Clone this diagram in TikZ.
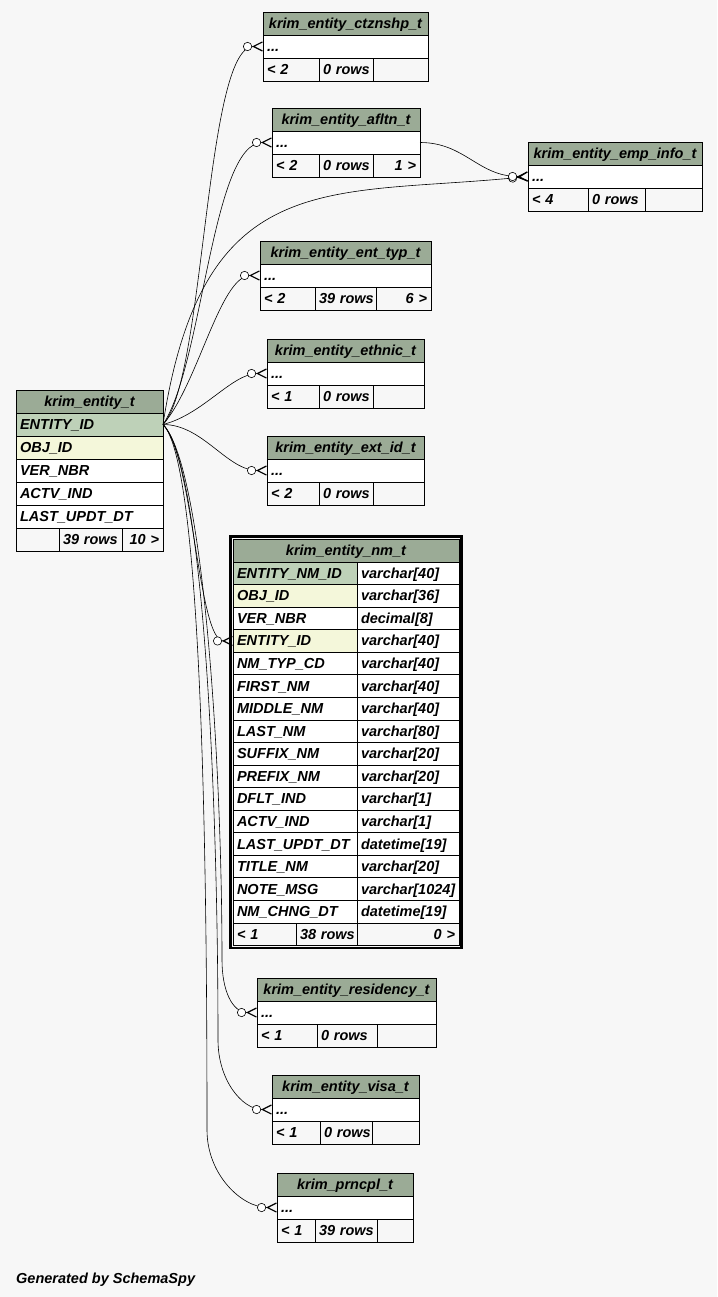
\documentclass[tikz,border=0pt]{standalone}
\usepackage{fontspec}
\setmainfont{Liberation Sans}
\usetikzlibrary{arrows.meta}

\definecolor{hdrgreen}{HTML}{9BAB96}
\definecolor{pkgreen}{HTML}{BED1B8}
\definecolor{fkyellow}{HTML}{F4F7DA}
\definecolor{bggray}{HTML}{F7F7F7}

\tikzset{
  wd/.code={\pgfmathsetlengthmacro\cellw{#1-8}\tikzset{minimum width=#1, text width=\cellw}},
  tbl/.style={draw, rectangle, anchor=north west, inner xsep=4pt, inner ysep=0pt, outer sep=0pt,
    minimum height=23pt, text height=11pt, text depth=1pt, line width=0.8pt,
    font=\fontsize{14.5}{16}\selectfont\bfseries\itshape, align=left, fill=white},
  hdr/.style={tbl, fill=hdrgreen, align=center},
  pkrow/.style={tbl, fill=pkgreen},
  fkrow/.style={tbl, fill=fkyellow},
  plainrow/.style={tbl},
  foot/.style={tbl, fill=bggray},
  footr/.style={foot, align=right},
  crowfoot/.style={line width=0.6pt,
    -{Circle[fill=white, length=9pt, width=9pt] Straight Barb[reversed, length=9pt, width=9pt, line width=1.2pt]}},
}

\begin{document}
\begin{tikzpicture}[x=1pt, y=-1pt]
  \path[use as bounding box, fill=bggray] (0,0) rectangle (717,1297);

  % krim_entity_t
  \node[hdr, wd=147] (ent-h) at (16,390) {krim\_entity\_t};
  \node[pkrow, wd=147] (ent-1) at (ent-h.south west) {ENTITY\_ID};
  \node[fkrow, wd=147] (ent-2) at (ent-1.south west) {OBJ\_ID};
  \node[plainrow, wd=147] (ent-3) at (ent-2.south west) {VER\_NBR};
  \node[plainrow, wd=147] (ent-4) at (ent-3.south west) {ACTV\_IND};
  \node[plainrow, wd=147] (ent-5) at (ent-4.south west) {LAST\_UPDT\_DT};
  \node[foot, wd=43] (ent-f1) at (ent-5.south west) {};
  \node[foot, wd=63] (ent-f2) at (ent-f1.north east) {39~rows};
  \node[footr, wd=41] (ent-f3) at (ent-f2.north east) {10~>};

  % krim_entity_ctznshp_t
  \node[hdr, wd=165] (ctz-h) at (263,12) {krim\_entity\_ctznshp\_t};
  \node[plainrow, wd=165] (ctz-r) at (ctz-h.south west) {...};
  \node[foot, wd=56] (ctz-f1) at (ctz-r.south west) {<~2};
  \node[foot, wd=54] (ctz-f2) at (ctz-f1.north east) {0~rows};
  \node[footr, wd=55] (ctz-f3) at (ctz-f2.north east) {};

  % krim_entity_afltn_t
  \node[hdr, wd=148] (afl-h) at (272,108) {krim\_entity\_afltn\_t};
  \node[plainrow, wd=148] (afl-r) at (afl-h.south west) {...};
  \node[foot, wd=47] (afl-f1) at (afl-r.south west) {<~2};
  \node[foot, wd=54] (afl-f2) at (afl-f1.north east) {0~rows};
  \node[footr, wd=47] (afl-f3) at (afl-f2.north east) {1~>};

  % krim_entity_emp_info_t
  \node[hdr, wd=174] (emp-h) at (528,142) {krim\_entity\_emp\_info\_t};
  \node[plainrow, wd=174] (emp-r) at (emp-h.south west) {...};
  \node[foot, wd=60] (emp-f1) at (emp-r.south west) {<~4};
  \node[foot, wd=57] (emp-f2) at (emp-f1.north east) {0~rows};
  \node[footr, wd=57] (emp-f3) at (emp-f2.north east) {};

  % krim_entity_ent_typ_t
  \node[hdr, wd=171] (typ-h) at (260,241) {krim\_entity\_ent\_typ\_t};
  \node[plainrow, wd=171] (typ-r) at (typ-h.south west) {...};
  \node[foot, wd=55] (typ-f1) at (typ-r.south west) {<~2};
  \node[foot, wd=61] (typ-f2) at (typ-f1.north east) {39~rows};
  \node[footr, wd=55] (typ-f3) at (typ-f2.north east) {6~>};

  % krim_entity_ethnic_t
  \node[hdr, wd=157] (eth-h) at (267,339) {krim\_entity\_ethnic\_t};
  \node[plainrow, wd=157] (eth-r) at (eth-h.south west) {...};
  \node[foot, wd=52] (eth-f1) at (eth-r.south west) {<~1};
  \node[foot, wd=54] (eth-f2) at (eth-f1.north east) {0~rows};
  \node[footr, wd=51] (eth-f3) at (eth-f2.north east) {};

  % krim_entity_ext_id_t
  \node[hdr, wd=157] (ext-h) at (267,436) {krim\_entity\_ext\_id\_t};
  \node[plainrow, wd=157] (ext-r) at (ext-h.south west) {...};
  \node[foot, wd=52] (ext-f1) at (ext-r.south west) {<~2};
  \node[foot, wd=54] (ext-f2) at (ext-f1.north east) {0~rows};
  \node[footr, wd=51] (ext-f3) at (ext-f2.north east) {};

  % krim_entity_nm_t
  \node[hdr, wd=226] (nm-h) at (233,539) {krim\_entity\_nm\_t};
  \foreach \col/\typ/\sty [count=\i] in {
      ENTITY\_NM\_ID/varchar[40]/pkrow, OBJ\_ID/varchar[36]/fkrow,
      VER\_NBR/decimal[8]/plainrow, ENTITY\_ID/varchar[40]/fkrow,
      NM\_TYP\_CD/varchar[40]/plainrow, FIRST\_NM/varchar[40]/plainrow,
      MIDDLE\_NM/varchar[40]/plainrow, LAST\_NM/varchar[80]/plainrow,
      SUFFIX\_NM/varchar[20]/plainrow, PREFIX\_NM/varchar[20]/plainrow,
      DFLT\_IND/varchar[1]/plainrow, ACTV\_IND/varchar[1]/plainrow,
      LAST\_UPDT\_DT/datetime[19]/plainrow, TITLE\_NM/varchar[20]/plainrow,
      NOTE\_MSG/varchar[1024]/plainrow, NM\_CHNG\_DT/datetime[19]/plainrow} {
    \node[\sty, wd=124, minimum height=22.56pt] (nm-\i-a) at (233,{562+(\i-1)*22.56}) {\col};
    \node[plainrow, wd=102, minimum height=22.56pt] (nm-\i-b) at (nm-\i-a.north east) {\typ};
  }
  \node[foot, wd=63, minimum height=22.56pt] (nm-f1) at (nm-16-a.south west) {<~1};
  \node[foot, wd=61, minimum height=22.56pt] (nm-f2) at (nm-f1.north east) {38~rows};
  \node[footr, wd=102, minimum height=22.56pt] (nm-f3) at (nm-f2.north east) {0~>};
  \draw[line width=2.5pt] ([shift={(-2.5,-2.5)}]nm-h.north west) rectangle ([shift={(2.5,2.5)}]nm-f3.south east);

  % krim_entity_residency_t
  \node[hdr, wd=179] (res-h) at (257,978) {krim\_entity\_residency\_t};
  \node[plainrow, wd=179] (res-r) at (res-h.south west) {...};
  \node[foot, wd=60] (res-f1) at (res-r.south west) {<~1};
  \node[foot, wd=60] (res-f2) at (res-f1.north east) {0~rows};
  \node[footr, wd=59] (res-f3) at (res-f2.north east) {};

  % krim_entity_visa_t
  \node[hdr, wd=147] (vis-h) at (272,1075) {krim\_entity\_visa\_t};
  \node[plainrow, wd=147] (vis-r) at (vis-h.south west) {...};
  \node[foot, wd=48] (vis-f1) at (vis-r.south west) {<~1};
  \node[foot, wd=52] (vis-f2) at (vis-f1.north east) {0~rows};
  \node[footr, wd=47] (vis-f3) at (vis-f2.north east) {};

  % krim_prncpl_t
  \node[hdr, wd=136] (prn-h) at (277,1173) {krim\_prncpl\_t};
  \node[plainrow, wd=136] (prn-r) at (prn-h.south west) {...};
  \node[foot, wd=38] (prn-f1) at (prn-r.south west) {<~1};
  \node[foot, wd=62] (prn-f2) at (prn-f1.north east) {39~rows};
  \node[footr, wd=36] (prn-f3) at (prn-f2.north east) {};

  % Relations
  \draw[crowfoot] (ent-1.east) .. controls +(42,-44) and +(-58,0) .. (ctz-r.west);
  \draw[crowfoot] (ent-1.east) .. controls +(40,-60) and +(-60,0) .. (afl-r.west);
  \draw[crowfoot] (ent-1.east) .. controls +(40,-260) and +(-200,20) .. (emp-r.west);
  \draw[crowfoot] (afl-r.east) .. controls +(45,0) and +(-50,0) .. (emp-r.west);
  \draw[crowfoot] (ent-1.east) .. controls +(35,-40) and +(-40,0) .. (typ-r.west);
  \draw[crowfoot] (ent-1.east) .. controls +(40,-10) and +(-35,0) .. (eth-r.west);
  \draw[crowfoot] (ent-1.east) .. controls +(40,0) and +(-40,0) .. (ext-r.west);
  \draw[crowfoot] (ent-1.east) .. controls +(30,30) and +(-35,0) .. (nm-4-a.west);
  \draw[crowfoot] (ent-1.east) .. controls +(40,40) and +(0,-200) .. (222,960)
    .. controls +(0,30) and +(-25,0) .. (res-r.west);
  \draw[crowfoot] (ent-1.east) .. controls +(40,40) and +(0,-250) .. (218,1040)
    .. controls +(0,40) and +(-30,0) .. (vis-r.west);
  \draw[crowfoot] (ent-1.east) .. controls +(40,40) and +(0,-250) .. (207,1130)
    .. controls +(0,45) and +(-35,0) .. (prn-r.west);

  \node[anchor=base west, inner sep=0pt, font=\fontsize{14.5}{16}\selectfont\bfseries\itshape] (gen) at (16,1283) {Generated by SchemaSpy};
\end{tikzpicture}
\end{document}
